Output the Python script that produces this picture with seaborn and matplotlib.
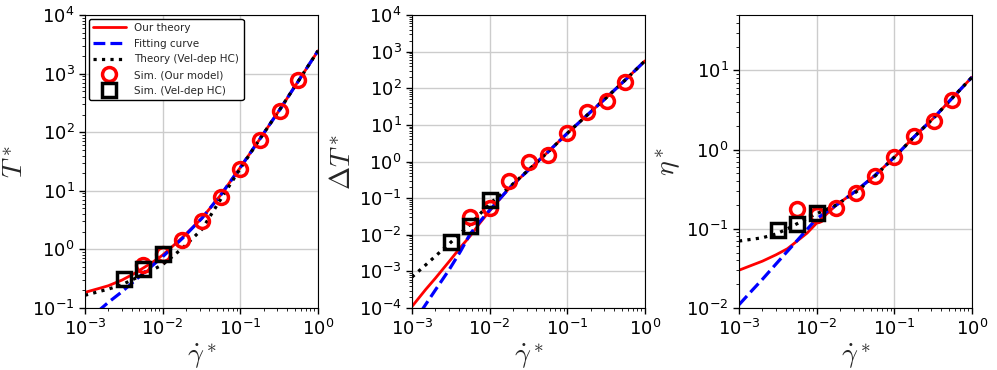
import numpy as np
import pandas as pd
import matplotlib
matplotlib.use("Agg")
import matplotlib.pyplot as plt
import matplotlib.ticker as mticker
import seaborn as sns

# ---------------- data ----------------
x_line = [0.001, 0.0015, 0.002, 0.003, 0.0042, 0.0056, 0.0075, 0.01,
          0.018, 0.032, 0.056, 0.1, 0.18, 0.32, 0.56, 1.0]
x_circ = [0.0056, 0.01, 0.018, 0.032, 0.056, 0.1, 0.18, 0.32, 0.56]
x_sq = [0.0032, 0.0056, 0.01]

# Panel 1 : T*
T_theory = [0.185, 0.215, 0.24, 0.30, 0.38, 0.48, 0.61, 0.80,
            1.6, 3.4, 8.5, 25, 78, 240, 750, 2450]
T_fit = [0.058, 0.09, 0.125, 0.19, 0.28, 0.39, 0.54, 0.75,
         1.55, 3.4, 8.5, 25, 78, 240, 750, 2450]
T_hc = [0.165, 0.19, 0.21, 0.25, 0.31, 0.37, 0.45, 0.55,
        1.05, 2.2, 7.2, 24, 78, 240, 750, 2450]
T_sim = [0.54, 0.82, 1.42, 3.08, 7.9, 23.5, 75, 228, 770]
T_sim_hc = [0.31, 0.46, 0.82]

# Panel 2 : Delta T*
dT_theory = [1.1e-4, 3.2e-4, 6.5e-4, 1.85e-3, 4.5e-3, 9.2e-3, 0.021, 0.045,
             0.19, 0.6, 1.8, 5.9, 18.5, 56, 170, 560]
dT_fit = [3.4e-5, 1.25e-4, 3.1e-4, 1.1e-3, 3.5e-3, 0.0105, 0.023, 0.047,
          0.19, 0.6, 1.8, 5.9, 18.5, 56, 170, 560]
dT_hc = [7e-4, 1.5e-3, 2.6e-3, 5.6e-3, 0.011, 0.019, 0.037, 0.07,
         0.2, 0.6, 1.8, 5.9, 18.5, 56, 170, 560]
dT_sim = [0.031, 0.053, 0.30, 0.94, 1.51, 5.9, 23, 45, 151]
dT_sim_hc = [0.0065, 0.0174, 0.089]

# Panel 3 : eta*
eta_theory = [0.030, 0.035, 0.039, 0.047, 0.056, 0.070, 0.088, 0.118,
              0.20, 0.30, 0.47, 0.80, 1.45, 2.5, 4.5, 8.2]
eta_fit = [0.011, 0.017, 0.023, 0.036, 0.052, 0.071, 0.098, 0.134,
           0.20, 0.30, 0.47, 0.80, 1.45, 2.5, 4.5, 8.2]
eta_hc = [0.070, 0.074, 0.077, 0.086, 0.100, 0.116, 0.135, 0.155,
          0.20, 0.29, 0.46, 0.80, 1.45, 2.5, 4.5, 8.2]
eta_sim = [0.178, 0.15, 0.183, 0.284, 0.46, 0.81, 1.5, 2.28, 4.27]
eta_sim_hc = [0.097, 0.116, 0.16]

panels = [
    (T_theory, T_fit, T_hc, T_sim, T_sim_hc, r"$T^*$", (1e-1, 1e4)),
    (dT_theory, dT_fit, dT_hc, dT_sim, dT_sim_hc, r"$\Delta T^*$", (1e-4, 1e4)),
    (eta_theory, eta_fit, eta_hc, eta_sim, eta_sim_hc, r"$\eta^*$", (1e-2, 50)),
]

labels = ["Our theory", "Fitting curve", "Theory (Vel-dep HC)",
          "Sim. (Our model)", "Sim. (Vel-dep HC)"]

# ---------------- style ----------------
sns.set_style("ticks")
plt.rcParams["font.family"] = ["DejaVu Sans"]
plt.rcParams["mathtext.fontset"] = "cm"
plt.rcParams["axes.edgecolor"] = "black"
plt.rcParams["xtick.color"] = "black"
plt.rcParams["ytick.color"] = "black"

fig = plt.figure(figsize=(9.97, 3.70), dpi=100)
lefts = [85 / 997, 412 / 997, 739 / 997]
W = 233 / 997
B = 62 / 370
H = 293 / 370

for i, (th, fit, hc, sim, simhc, ylab, ylim) in enumerate(panels):
    ax = fig.add_axes([lefts[i], B, W, H])
    ax.set_xscale("log")
    ax.set_yscale("log")
    ax.grid(True, which="major", color="#cccccc", linewidth=1.0)
    ax.set_axisbelow(True)

    sns.lineplot(x=x_line, y=th, ax=ax, color="red", linewidth=2.0,
                 estimator=None, sort=False, label=labels[0])
    sns.lineplot(x=x_line, y=fit, ax=ax, color="blue", linewidth=2.3,
                 linestyle="--", estimator=None, sort=False, label=labels[1])
    sns.lineplot(x=x_line, y=hc, ax=ax, color="black", linewidth=2.3,
                 linestyle=":", estimator=None, sort=False, label=labels[2])
    sns.lineplot(x=x_circ, y=sim, ax=ax, color="red", linestyle="",
                 marker="o", markersize=10, markerfacecolor="none",
                 markeredgecolor="red", markeredgewidth=2.5,
                 estimator=None, sort=False, label=labels[3])
    sns.lineplot(x=x_sq, y=simhc, ax=ax, color="black", linestyle="",
                 marker="s", markersize=10, markerfacecolor="none",
                 markeredgecolor="black", markeredgewidth=2.5,
                 estimator=None, sort=False, label=labels[4])

    ax.set_xlim(1e-3, 1.0)
    ax.set_ylim(*ylim)
    ax.set_xlabel(r"$\dot{\gamma}^*$", fontsize=20, labelpad=2)
    ax.set_ylabel(ylab, fontsize=20, labelpad=2)
    for axis in (ax.xaxis, ax.yaxis):
        axis.set_major_locator(mticker.LogLocator(base=10, numticks=20))
        axis.set_minor_locator(mticker.LogLocator(base=10, subs=np.arange(2, 10),
                                                  numticks=200))
        axis.set_minor_formatter(mticker.NullFormatter())
    ax.tick_params(axis="both", which="major", labelsize=13, length=4,
                   width=1, direction="out")
    ax.tick_params(axis="both", which="minor", length=2, width=0.6,
                   direction="out")
    for s in ax.spines.values():
        s.set_visible(True)
        s.set_color("black")

    if i == 0:
        leg = ax.legend(loc="upper left", fontsize=7.5, framealpha=1,
                        edgecolor="black", handlelength=3.2,
                        labelspacing=0.55, borderaxespad=0.35)
        leg.get_frame().set_linewidth(1.0)
    else:
        ax.get_legend().remove()

fig.savefig("out.png", dpi=100)
